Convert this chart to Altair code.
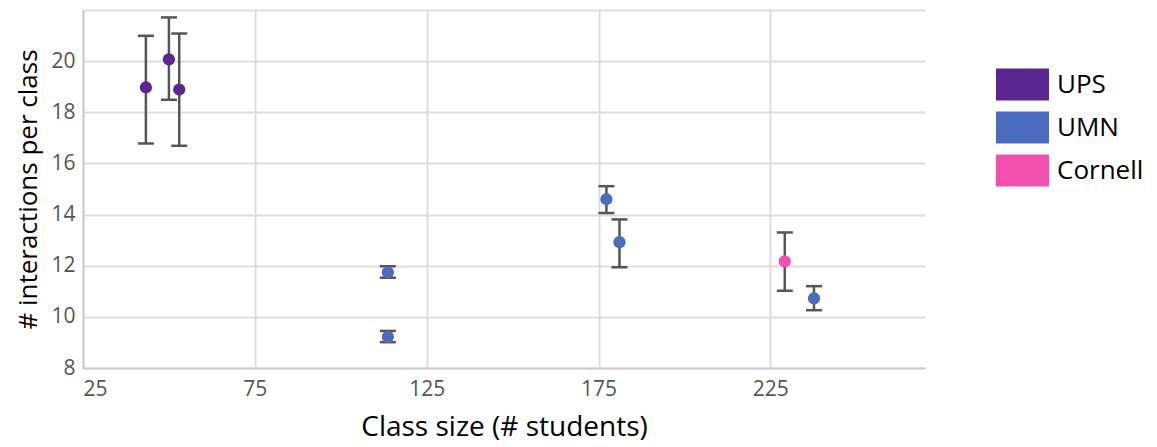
import altair as alt
import pandas as pd

schools = ["UPS", "UPS", "UPS", "UMN", "UMN", "UMN", "UMN", "Cornell", "UMN"]
class_size = [43.3, 50.0, 53.0, 113.7, 113.7, 177.3, 181.1, 229.2, 237.7]
mean_inter = [18.97, 20.07, 18.89, 11.74, 9.22, 14.60, 12.92, 12.17, 10.72]
low = [16.78, 18.49, 16.69, 11.53, 9.01, 14.06, 11.94, 11.02, 10.26]
high = [20.99, 21.71, 21.08, 11.98, 9.45, 15.11, 13.81, 13.30, 11.20]

school_order = ["UPS", "UMN", "Cornell"]
school_colors = ["#5C2690", "#4B6CBF", "#F24FAE"]

df = pd.DataFrame({
    "school": schools,
    "size": class_size,
    "mean": mean_inter,
    "low": low,
    "high": high,
})

FONT = "Open Sans"

x = alt.X("size:Q", scale=alt.Scale(domain=[25, 270], nice=False, zero=False),
          axis=alt.Axis(title="Class size (# students)", values=[25, 75, 125, 175, 225]))
y = alt.Y("mean:Q", scale=alt.Scale(domain=[8, 22], nice=False, zero=False),
          axis=alt.Axis(title="# interactions per class", values=[8, 10, 12, 14, 16, 18, 20, 22],
                        labelExpr="datum.value == 22 ? '' : datum.label"))

base = alt.Chart(df)

bars = base.mark_rule(color="#555555", strokeWidth=2.5).encode(
    x=x, y=alt.Y("low:Q"), y2="high:Q")
cap_lo = base.mark_tick(orient="horizontal", color="#555555", size=16, thickness=2.5, opacity=1).encode(
    x="size:Q", y="low:Q")
cap_hi = base.mark_tick(orient="horizontal", color="#555555", size=16, thickness=2.5, opacity=1).encode(
    x="size:Q", y="high:Q")
points = base.mark_point(filled=True, size=150, opacity=1).encode(
    x="size:Q", y=y,
    color=alt.Color("school:N",
                    scale=alt.Scale(domain=school_order, range=school_colors),
                    legend=alt.Legend(title=None, orient="none", legendX=913, legendY=48,
                                      symbolType="M-1,-0.6L1,-0.6L1,0.6L-1,0.6Z",
                                      symbolSize=2809, symbolStrokeWidth=0, symbolOpacity=1,
                                      labelFontSize=26, labelFont=FONT, labelColor="#000000",
                                      rowPadding=-10, labelOffset=8)),
)

chart = alt.layer(bars, cap_lo, cap_hi, points).properties(
    width=842, height=358,
    padding={"left": 75, "top": 2, "right": 220, "bottom": 79},
    autosize=alt.AutoSizeParams(type="none"),
).configure_view(stroke=None).configure_axis(
    labelFont=FONT, titleFont=FONT, labelFontSize=21, titleFontSize=28,
    labelColor="#555555", titleColor="#000000", titleFontWeight="normal",
    gridColor="#DDDDDD", gridWidth=2, domainColor="#CCCCCC", domainWidth=2,
    ticks=False,
).configure_axisY(titlePadding=9, labelPadding=8, titleFontSize=26).configure_axisX(
    titlePadding=14, labelPadding=10)

chart.save("out.html", embed_options={"renderer": "svg", "actions": False})
